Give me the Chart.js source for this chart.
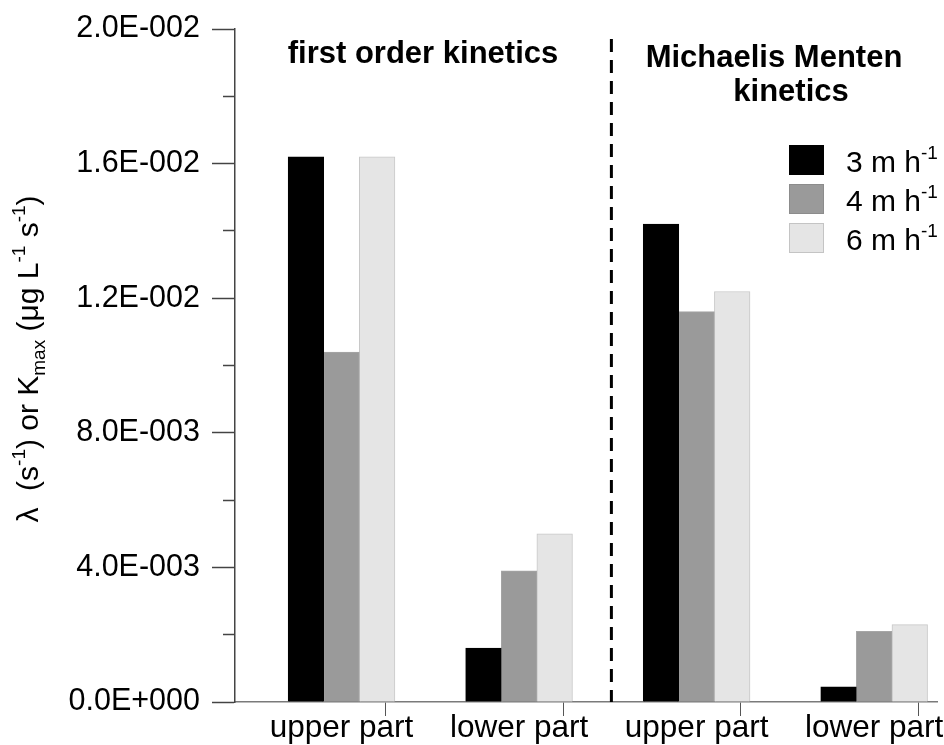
<!DOCTYPE html>
<html><head><meta charset="utf-8">
<script src="https://cdn.jsdelivr.net/npm/chart.js@4/dist/chart.umd.min.js"></script>
<style>html,body{margin:0;padding:0;background:#fff;overflow:hidden}canvas{display:block}</style>
</head><body>
<canvas id="c" width="944" height="745" style="width:944px;height:745px"></canvas>
<script>
// ---------- data ----------
const categories = ['upper part', 'lower part', 'upper part', 'lower part'];
const categoryPositions = [1, 2, 3, 4];
const categoryDividers = [1.5, 2.5, 3.5];
const seriesLabels = ['3 m h^{-1}', '4 m h^{-1}', '6 m h^{-1}'];
const series3mh = [0.0162, 0.0016, 0.0142, 0.00045];
const series4mh = [0.0104, 0.0039, 0.0116, 0.0021];
const series6mh = [0.0162, 0.0050, 0.0122, 0.0023];
const yTickValues = [0, 0.002, 0.004, 0.006, 0.008, 0.010, 0.012, 0.014, 0.016, 0.018, 0.020];
const yTickLabels = ['0.0E+000', '4.0E-003', '8.0E-003', '1.2E-002', '1.6E-002', '2.0E-002'];
const yAxisTitle = 'λ  (s^{-1}) or K_{max} (μg L^{-1} s^{-1})';
const panelTitleLeft = 'first order kinetics';
const panelTitleRight = ['Michaelis Menten', 'kinetics'];
const separatorX = [2.52, 2.52];
const separatorY = [0.0197, 0];

// ---------- helpers ----------
const FONT = '"Liberation Sans", Arial, sans-serif';
function parseRich(s) {
  const out = []; const re = /([\^_])\{([^}]*)\}/g; let last = 0, m;
  while ((m = re.exec(s))) {
    if (m.index > last) out.push({ t: s.slice(last, m.index), k: 'n' });
    out.push({ t: m[2], k: m[1] === '^' ? 'sup' : 'sub' });
    last = re.lastIndex;
  }
  if (last < s.length) out.push({ t: s.slice(last), k: 'n' });
  return out;
}
function drawRich(ctx, s, x, y, size, align, weight) {
  const segs = parseRich(s); const small = Math.round(size * 0.62);
  const w0 = weight ? weight + ' ' : '';
  let w = 0;
  segs.forEach(sg => { ctx.font = w0 + (sg.k === 'n' ? size : small) + 'px ' + FONT; sg.w = ctx.measureText(sg.t).width; w += sg.w; });
  let cx = align === 'center' ? x - w / 2 : x;
  ctx.textAlign = 'left'; ctx.textBaseline = 'alphabetic';
  segs.forEach(sg => {
    ctx.font = w0 + (sg.k === 'n' ? size : small) + 'px ' + FONT;
    const dy = sg.k === 'sup' ? -size * 0.42 : (sg.k === 'sub' ? size * 0.22 : 0);
    ctx.fillText(sg.t, cx, y + dy); cx += sg.w;
  });
}

const colors = ['#000000', '#9a9a9a', '#e5e5e5'];
const borders = ['#000000', '#a6a6a6', '#c8c8c8'];
const seriesData = [series3mh, series4mh, series6mh];

const barDatasets = seriesData.map((arr, i) => ({
  type: 'bar',
  label: seriesLabels[i],
  data: arr.map((v, j) => ({ x: categoryPositions[j], y: v })),
  backgroundColor: colors[i],
  borderColor: borders[i],
  borderWidth: 1,
  barThickness: 35.6,
  grouped: true
}));

const separatorDataset = {
  type: 'line',
  label: 'separator',
  data: separatorX.map((x, i) => ({ x: x, y: separatorY[i] })),
  borderColor: '#000',
  borderWidth: 3,
  borderDash: [13, 8],
  pointRadius: 0,
  fill: false
};

const overlayPlugin = {
  id: 'overlay',
  afterDraw(chart) {
    const ctx = chart.ctx;
    ctx.save();
    ctx.fillStyle = '#000';
    // panel titles
    ctx.font = 'bold 31px ' + FONT; ctx.textAlign = 'center'; ctx.textBaseline = 'alphabetic';
    ctx.fillText(panelTitleLeft, 423, 63);
    ctx.fillText(panelTitleRight[0], 774, 67);
    ctx.fillText(panelTitleRight[1], 791, 101);
    // legend
    chart.data.datasets.filter(d => d.type === 'bar').forEach((d, i) => {
      const y0 = 145 + 39 * i;
      ctx.fillStyle = d.backgroundColor;
      ctx.fillRect(789, y0, 35, 30);
      if (i > 0) { ctx.strokeStyle = i === 1 ? '#8c8c8c' : '#c4c4c4'; ctx.lineWidth = 1; ctx.strokeRect(789.5, y0 + 0.5, 34, 29); }
      ctx.fillStyle = '#000';
      drawRich(ctx, d.label, 846, 171.5 + 39 * i, 30, 'left');
    });
    // y axis title
    ctx.translate(38, 359);
    ctx.rotate(-Math.PI / 2);
    ctx.fillStyle = '#000';
    drawRich(ctx, yAxisTitle, 0, 0, 30, 'center');
    ctx.restore();
  }
};

new Chart(document.getElementById('c'), {
  type: 'bar',
  data: { datasets: [...barDatasets, separatorDataset] },
  options: {
    responsive: false,
    animation: false,
    layout: { padding: { top: 29, right: 7, left: 0, bottom: 0 } },
    plugins: { legend: { display: false }, tooltip: { enabled: false }, title: { display: false } },
    scales: {
      x: {
        type: 'linear',
        min: 0.4, max: 4.354,
        offset: false,
        afterBuildTicks(scale) {
          const vals = [...categoryPositions, ...categoryDividers].sort((a, b) => a - b);
          scale.ticks = vals.map(v => ({ value: v }));
        },
        afterFit(scale) { scale.height = 43; scale.paddingLeft = 0; scale.paddingRight = 0; },
        grid: {
          drawOnChartArea: false,
          drawTicks: true,
          tickLength: 14,
          tickColor: (c) => (c.tick && Number.isInteger(c.tick.value)) ? 'rgba(0,0,0,0)' : '#555',
          tickWidth: 1
        },
        border: { display: true, color: '#7a7a7a', width: 1.5 },
        ticks: {
          autoSkip: false, maxRotation: 0, minRotation: 0,
          padding: -3,
          color: '#000',
          font: { family: FONT, size: 31.5, lineHeight: 1 },
          callback: (v) => { const i = categoryPositions.indexOf(v); return i >= 0 ? categories[i] : ''; }
        }
      },
      y: {
        min: 0, max: 0.02,
        afterBuildTicks(scale) { scale.ticks = yTickValues.map(v => ({ value: v })); },
        afterFit(scale) { scale.width = 235; scale.paddingTop = 0; scale.paddingBottom = 0; },
        grid: {
          drawOnChartArea: false,
          drawTicks: true,
          tickLength: 23,
          tickColor: '#444',
          tickWidth: 1.5,
          tickBorderDash: (c) => (c.index % 2 === 1) ? [0, 11, 12] : []
        },
        border: { display: true, color: '#444', width: 1.5 },
        ticks: {
          autoSkip: false,
          padding: 12,
          color: '#000',
          font: { family: FONT, size: 30.5 },
          callback: (v, i) => (i % 2 === 0) ? yTickLabels[i / 2] : ''
        }
      }
    }
  },
  plugins: [overlayPlugin]
});
</script>
</body></html>
